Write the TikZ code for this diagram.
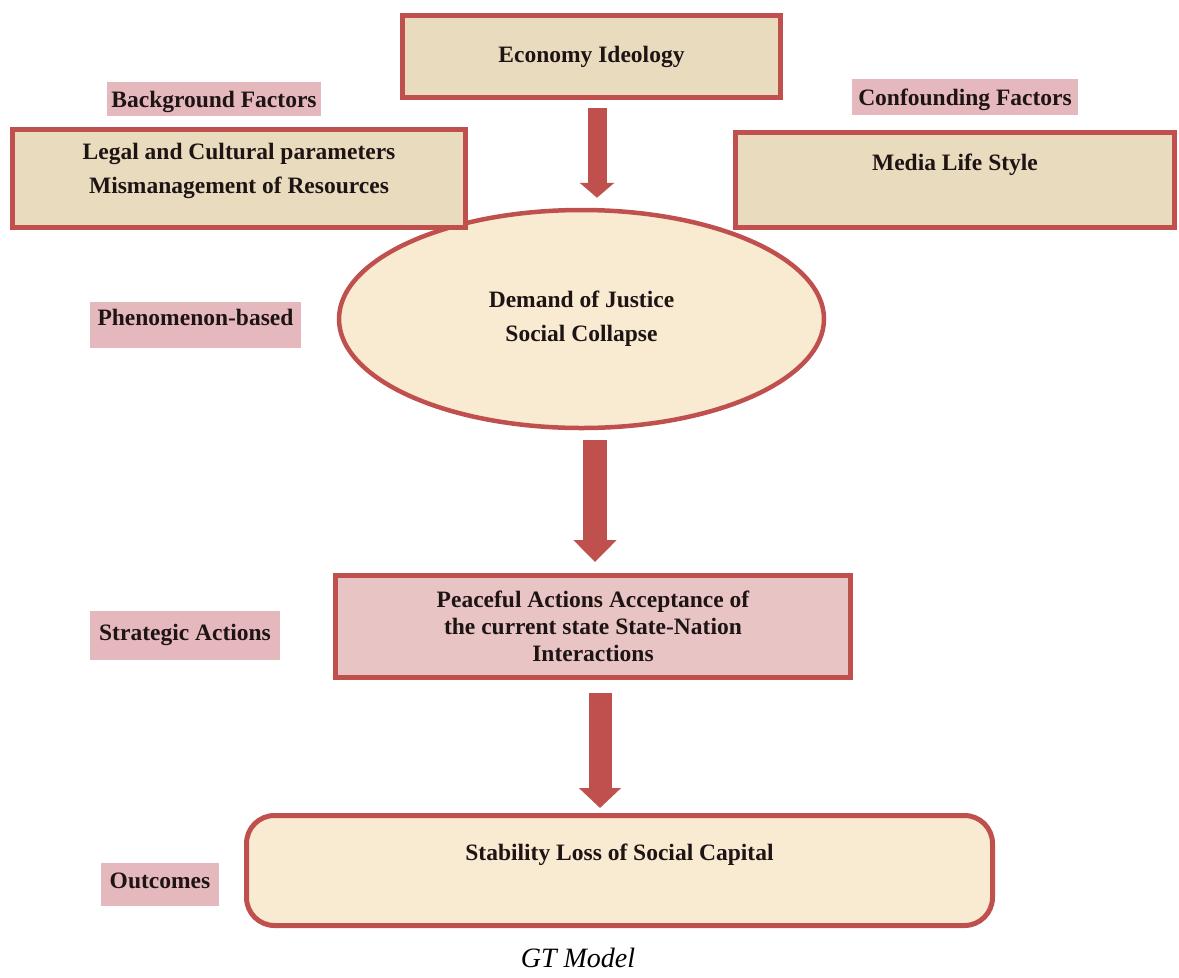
\documentclass[tikz,border=0pt]{standalone}
\usepackage{fontspec}
\setmainfont{Liberation Serif}
\usetikzlibrary{arrows.meta,shapes.geometric}

\definecolor{boxred}{RGB}{192,80,77}
\definecolor{parch}{RGB}{233,219,190}
\definecolor{cream}{RGB}{249,234,210}
\definecolor{rose}{RGB}{232,197,196}
\definecolor{tagpink}{RGB}{228,184,188}
\definecolor{ink}{RGB}{30,20,20}

\begin{document}
\begin{tikzpicture}[
  x=1pt, y=-1pt,
  font=\fontsize{23.5}{34}\selectfont\bfseries,
  text=ink,
  box/.style={draw=boxred, line width=5pt, fill=parch, align=center, inner sep=0pt},
  tag/.style={fill=tagpink, inner sep=0pt, text height=16pt, text depth=0pt},
  blockarrow/.style={draw=boxred, line cap=butt}
]
\useasboundingbox (0,0) rectangle (1179,978);

% phenomenon (behind the top boxes)
\node[ellipse, draw=boxred, line width=4.5pt, fill=cream, inner sep=0pt, align=center,
  minimum width=485pt, minimum height=218pt] (dem) at (581.5,319) {Demand of Justice\\Social Collapse};

% top row
\node[box, minimum width=378pt, minimum height=82pt] (eco) at (591.5,56.5) {Economy Ideology};
\node[box, minimum width=453pt, minimum height=98pt] (legal) at (239,178.5) {};
\node[align=center, inner sep=0pt] (legaltxt) at (239,171) {Legal and Cultural parameters\\Mismanagement of Resources};
\node[box, minimum width=439pt, minimum height=95pt, text height=16pt, text depth=36pt] (media) at (955,180) {Media Life Style};

% side tags
\node[tag, minimum width=214pt, minimum height=34pt] (bg) at (214,99) {Background Factors};
\node[tag, minimum width=226pt, minimum height=36pt] (conf) at (965,97) {Confounding Factors};
\node[tag, minimum width=211pt, minimum height=46pt, text depth=16pt] (phen) at (195.5,325) {Phenomenon-based};
\node[tag, minimum width=190pt, minimum height=49pt, text depth=6pt] (strat) at (185,635.5) {Strategic Actions};
\node[tag, minimum width=118pt, minimum height=43pt, text depth=8pt] (outc) at (160,884.5) {Outcomes};

% actions and outcome
\node[box, fill=rose, minimum width=515pt, minimum height=102pt,
  font=\fontsize{23.5}{27}\selectfont\bfseries] (peace) at (593,626.5)
  {Peaceful Actions Acceptance of\\the current state State-Nation\\Interactions};
\node[box, fill=cream, rounded corners=28pt, minimum width=746pt, minimum height=110pt,
  text height=16pt, text depth=36pt] (stab) at (619.5,870.5) {Stability Loss of Social Capital};

\node[font=\fontsize{28}{30}\selectfont\itshape, text=black] (cap) at (578,958) {GT Model};

% block arrows
\draw[blockarrow, line width=19pt, -{Triangle[width=34pt,length=15pt]}, shorten <=8pt, shorten >=10pt]
  ([xshift=5.5pt]eco.south) -- ([xshift=5.5pt]eco.south |- dem.north);
\draw[blockarrow, line width=24pt, -{Triangle[width=42pt,length=22pt]}, shorten <=10pt, shorten >=11pt]
  ([xshift=13.5pt]dem.south) -- ([xshift=13.5pt]dem.south |- peace.north);
\draw[blockarrow, line width=23pt, -{Triangle[width=41pt,length=20pt]}, shorten <=13pt, shorten >=5pt]
  ([xshift=7pt]peace.south) -- ([xshift=7pt]peace.south |- stab.north);
\end{tikzpicture}
\end{document}
